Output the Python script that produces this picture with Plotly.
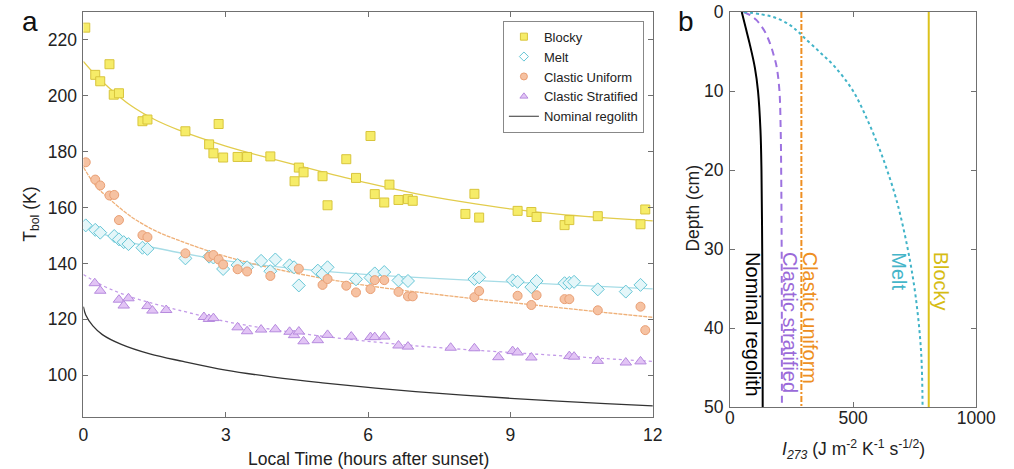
import plotly.graph_objects as go

# ---------------- Panel a data (hours after sunset, K) ----------------
blocky_t = [0.04, 0.25, 0.355, 0.55, 0.64, 0.75, 1.245, 1.35, 2.15, 2.65, 2.74, 2.85, 2.945, 3.25, 3.45, 3.94,
            4.45, 4.54, 4.64, 5.04, 5.145, 5.54, 5.745, 6.05, 6.14, 6.34, 6.45, 6.64, 6.84, 6.94, 8.05, 8.24,
            8.34, 9.15, 9.44, 9.55, 10.14, 10.24, 10.84, 11.74, 11.84]
blocky_T = [224.4, 207.5, 205.2, 211.3, 200.4, 200.9, 190.9, 191.5, 187.3, 182.6, 179.4, 189.9, 177.9, 178.1,
            178.1, 178.3, 169.4, 174.3, 172.6, 171.2, 160.8, 177.3, 170.6, 185.6, 164.8, 161.8, 168.2, 162.7,
            163.0, 162.4, 157.7, 164.9, 156.4, 158.8, 158.4, 156.6, 153.7, 155.5, 156.9, 154.0, 159.3]

melt_t = [0.05, 0.25, 0.355, 0.65, 0.75, 0.85, 0.95, 1.245, 1.35, 2.15, 2.65, 2.74, 2.945, 3.25, 3.45, 3.745,
          3.94, 4.045, 4.345, 4.44, 4.54, 4.94, 5.04, 5.145, 5.745, 6.05, 6.14, 6.34, 6.64, 6.84, 8.24, 8.34,
          9.045, 9.15, 9.44, 9.55, 10.14, 10.24, 10.34, 10.84, 11.43, 11.74]
melt_T = [153.6, 152.0, 151.0, 149.8, 148.6, 147.6, 146.9, 145.6, 145.2, 141.8, 142.4, 142.1, 138.0, 139.4,
          138.6, 140.9, 137.2, 141.4, 139.3, 138.6, 132.1, 137.4, 136.2, 138.6, 134.3, 134.9, 136.4, 136.9,
          133.9, 133.7, 134.4, 135.0, 133.9, 133.4, 131.5, 133.7, 132.9, 133.0, 133.4, 130.7, 129.9, 132.3]

uni_t = [0.05, 0.25, 0.355, 0.55, 0.65, 0.75, 1.245, 1.35, 2.15, 2.65, 2.74, 2.85, 2.945, 3.25, 3.45, 3.94,
         4.54, 5.04, 5.145, 5.54, 5.745, 6.05, 6.14, 6.34, 6.64, 6.84, 6.94, 8.24, 8.34, 9.15, 9.44, 9.55,
         10.14, 10.24, 10.84, 11.74, 11.84]
uni_T = [176.2, 170.0, 167.9, 164.3, 164.5, 155.5, 150.1, 149.4, 143.6, 142.4, 143.0, 141.4, 139.6, 137.9,
         137.1, 135.5, 138.1, 132.3, 134.4, 132.0, 129.6, 130.8, 134.0, 134.0, 129.8, 128.2, 128.2, 127.9,
         130.1, 128.4, 125.1, 128.6, 127.2, 127.2, 123.2, 124.5, 116.1]

strat_t = [0.24, 0.355, 0.75, 0.85, 0.95, 1.35, 1.455, 1.745, 2.54, 2.645, 2.74, 3.25, 3.45, 3.745, 4.045,
           4.345, 4.44, 4.54, 4.64, 4.94, 5.145, 5.645, 6.05, 6.14, 6.34, 6.64, 6.84, 7.74, 8.24, 8.745,
           9.045, 9.15, 9.44, 10.24, 10.34, 10.84, 11.43, 11.74]
strat_T = [132.9, 130.2, 127.0, 124.9, 127.5, 124.7, 123.1, 123.3, 120.8, 120.1, 120.4, 117.1, 115.7, 116.3,
           116.4, 115.5, 114.3, 115.6, 112.1, 112.5, 114.4, 113.8, 113.6, 113.6, 113.8, 110.6, 110.2, 109.8,
           109.6, 106.4, 108.6, 108.1, 106.3, 106.8, 106.6, 105.1, 104.5, 104.9]

# fitted model curves
fit_t = [0, 0.25, 0.5, 1, 1.5, 2, 3, 4, 5, 6, 7, 8, 9, 10, 11, 12]
blocky_fit = [212.3, 207.5, 203.5, 196.5, 191.5, 187.8, 182.0, 177.3, 172.9, 168.7, 165.0, 162.0, 159.5, 157.6, 156.3, 155.2]
melt_fit = [153.5, 151.7, 150.0, 147.5, 145.6, 143.9, 141.0, 138.9, 137.3, 136.0, 135.0, 134.1, 133.3, 132.5, 131.7, 130.9]
uni_fit = [174.5, 168.0, 163.8, 156.8, 151.8, 148.3, 142.5, 138.2, 134.8, 132.0, 129.8, 127.8, 126.0, 124.2, 122.4, 120.7]
strat_fit = [136.0, 133.5, 131.3, 128.0, 125.5, 123.3, 119.2, 116.3, 114.0, 112.1, 110.5, 109.2, 108.1, 107.0, 105.9, 104.9]
nom_t = [0, 0.05, 0.2, 0.4, 0.8, 1.4, 2.1, 3, 4, 5, 6, 7, 8, 9, 10, 11, 12]
nom_T = [124.5, 121.5, 117.6, 114.5, 111.0, 107.6, 104.9, 101.8, 99.3, 97.3, 95.6, 94.1, 92.8, 91.7, 90.7, 89.8, 89.0]

# ---------------- Panel b data (depth cm, I273) ----------------
nomb_depth = [0, 2, 4, 7, 10, 15, 20, 30, 40, 50]
nomb_I = [48, 64, 80, 101, 114, 124, 128, 131, 132.5, 133]
stratb_depth = [0, 0.5, 1, 1.6, 2.5, 4, 5.5, 7, 10, 15, 20, 30, 50]
stratb_I = [56, 88, 107, 123, 142, 163, 178, 190, 201, 206, 208, 210, 211]
unib_depth = [0, 50]
unib_I = [290, 290]
meltb_depth = [0, 0.3, 0.7, 1.5, 2.3, 3.2, 5, 7, 10, 13.5, 17, 20, 24, 30, 36, 43, 50]
meltb_I = [56, 128, 182, 236, 270, 300, 362, 428, 500, 556, 603, 638, 678, 722, 754, 776, 782]
blockyb_depth = [0, 50]
blockyb_I = [807, 807]

FONT = "Liberation Sans, Arial, sans-serif"
AX = "#707070"

REF_W = 1014                # reference picture width (positions below are in its pixels)
W, H = 1031, 469            # figure size (the photo comes out horizontally scaled by ~1014/1031)
T_M, B_M = 12, 52
PH = H - T_M - B_M          # plot area height (405)


def fx(x):                  # reference x pixel -> paper x
    return x / REF_W


def fy(y):                  # reference y pixel -> paper y
    return 1 - (y - T_M) / PH


C_BLK = dict(fill="#f6ec68", edge="#d8c53c")
C_MELT = dict(fill="#e4f6f9", edge="#66c6d6")
C_UNI = dict(fill="#f6c2a2", edge="#e99f74")
C_STR = dict(fill="#e2c4f5", edge="#b68ade")

fig = go.Figure()

# fit lines (panel a)
fig.add_trace(go.Scatter(x=fit_t, y=blocky_fit, mode="lines", line=dict(color="#e2cc4c", width=1.3, shape="spline"),
                         showlegend=False, hoverinfo="skip"))
fig.add_trace(go.Scatter(x=fit_t, y=melt_fit, mode="lines", line=dict(color="#a6dce6", width=1.3, shape="spline"),
                         showlegend=False, hoverinfo="skip"))
fig.add_trace(go.Scatter(x=fit_t, y=uni_fit, mode="lines", line=dict(color="#efb078", width=1.3, shape="spline", dash="4px,1px"),
                         showlegend=False, hoverinfo="skip"))
fig.add_trace(go.Scatter(x=fit_t, y=strat_fit, mode="lines", line=dict(color="#c39ae8", width=1.3, shape="spline", dash="3px,3px"),
                         showlegend=False, hoverinfo="skip"))

# markers
fig.add_trace(go.Scatter(x=blocky_t, y=blocky_T, mode="markers", showlegend=False,
                         marker=dict(symbol="square", size=9, color=C_BLK["fill"], line=dict(color=C_BLK["edge"], width=1))))
fig.add_trace(go.Scatter(x=melt_t, y=melt_T, mode="markers", showlegend=False,
                         marker=dict(symbol="diamond", size=10, color=C_MELT["fill"], line=dict(color=C_MELT["edge"], width=1))))
fig.add_trace(go.Scatter(x=uni_t, y=uni_T, mode="markers", showlegend=False,
                         marker=dict(symbol="circle", size=9, color=C_UNI["fill"], line=dict(color=C_UNI["edge"], width=1))))
fig.add_trace(go.Scatter(x=strat_t, y=strat_T, mode="markers", showlegend=False,
                         marker=dict(symbol="triangle-up", size=10, color=C_STR["fill"], line=dict(color=C_STR["edge"], width=1))))
fig.add_trace(go.Scatter(x=nom_t, y=nom_T, mode="lines", showlegend=False,
                         line=dict(color="#333333", width=1.3, shape="spline")))

# legend entries (smaller glyphs, as in the reference legend)
for name, sym, c in [("Blocky", "square", C_BLK), ("Melt", "diamond-open", C_MELT),
                     ("Clastic Uniform", "circle", C_UNI), ("Clastic Stratified", "triangle-up", C_STR)]:
    fig.add_trace(go.Scatter(x=[None], y=[None], mode="markers", name=name,
                             marker=dict(symbol=sym, size=7, color=c["fill"] if "open" not in sym else c["edge"],
                                         line=dict(color=c["edge"], width=1))))
fig.add_trace(go.Scatter(x=[None], y=[None], mode="lines", name="Nominal regolith",
                         line=dict(color="#333333", width=1)))

# panel b
fig.add_trace(go.Scatter(x=nomb_I, y=nomb_depth, mode="lines", xaxis="x2", yaxis="y2", showlegend=False,
                         line=dict(color="#000000", width=2, shape="spline")))
fig.add_trace(go.Scatter(x=stratb_I, y=stratb_depth, mode="lines", xaxis="x2", yaxis="y2", showlegend=False,
                         line=dict(color="#9d72e0", width=2, shape="spline", dash="7px,5px")))
fig.add_trace(go.Scatter(x=unib_I, y=unib_depth, mode="lines", xaxis="x2", yaxis="y2", showlegend=False,
                         line=dict(color="#ee8f22", width=2, dash="6px,2px,2px,2px")))
fig.add_trace(go.Scatter(x=meltb_I, y=meltb_depth, mode="lines", xaxis="x2", yaxis="y2", showlegend=False,
                         line=dict(color="#42b4c8", width=2, shape="spline", dash="dot")))
fig.add_trace(go.Scatter(x=blockyb_I, y=blockyb_depth, mode="lines", xaxis="x2", yaxis="y2", showlegend=False,
                         line=dict(color="#dcc21c", width=2)))

axis_common = dict(showline=True, linecolor=AX, linewidth=1, mirror="allticks", ticks="inside", ticklen=5,
                   tickcolor=AX, showgrid=False, zeroline=False, ticklabeloverflow="allow",
                   tickfont=dict(family=FONT, size=17.5, color="#222"))

fig.update_layout(
    width=W, height=H, autosize=False, margin=dict(l=0, r=0, t=T_M, b=B_M),
    paper_bgcolor="white", plot_bgcolor="white",
    font=dict(family=FONT, color="#222"),
    xaxis=dict(domain=[fx(79), fx(653)], range=[0, 12], tickvals=[0, 3, 6, 9, 12], ticklabelstandoff=2, **axis_common),
    yaxis=dict(domain=[0, 1], range=[85, 230], tickvals=[100, 120, 140, 160, 180, 200, 220], ticklabelstandoff=2, **axis_common),
    xaxis2=dict(domain=[fx(730.7), fx(979)], range=[0, 1000], tickvals=[0, 500, 1000], anchor="y2",
                ticklabelstandoff=-5, **axis_common),
    yaxis2=dict(domain=[1 - (407.3 - T_M) / PH, 1], range=[50, 0], tickvals=[0, 10, 20, 30, 40, 50], anchor="x2",
                ticklabelstandoff=2, **axis_common),
    legend=dict(x=fx(644), xanchor="right", y=fy(20.7), yanchor="top", bgcolor="white",
                bordercolor="#888", borderwidth=1, font=dict(family=FONT, size=13, color="#222"),
                tracegroupgap=0),
    showlegend=True,
)

ann = []


def A(text, x, y, xref="paper", yref="paper", size=17.5, color="#222", angle=0, xa="center", ya="middle"):
    ann.append(dict(text=text, x=x, y=y, xref=xref, yref=yref, showarrow=False, textangle=angle,
                    xanchor=xa, yanchor=ya, font=dict(family=FONT, size=size, color=color)))


A("Local Time (hours after sunset)", fx(366), fy(459))
A("<i>I</i><sub><i>273</i></sub> (J m<sup>-2</sup> K<sup>-1</sup> s<sup>-1/2</sup>)", fx(855), fy(449))
A("T<sub>bol</sub> (K)", fx(26), fy(214), angle=-90)
A("Depth (cm)", fx(693), fy(208), angle=-90)
A("a", fx(25), fy(21), size=28, color="#111")
A("b", fx(686), fy(21), size=28, color="#111")

A("Nominal regolith", 91, 30.1, "x2", "y2", size=20, color="#000", angle=90, ya="top")
A("Clastic stratified", 242, 30.1, "x2", "y2", size=20, color="#9a6ad9", angle=90, ya="top")
A("Clastic uniform", 326, 30.1, "x2", "y2", size=20, color="#ee8f22", angle=90, ya="top")
A("Melt", 685, 30.1, "x2", "y2", size=20, color="#45b5c9", angle=90, ya="top")
A("Blocky", 856, 30.1, "x2", "y2", size=20, color="#d6bc14", angle=90, ya="top")
fig.update_layout(annotations=ann)

fig.write_html(
    "out.html",
    config={"responsive": False, "displayModeBar": False},
    post_script="document.documentElement.style.overflow='hidden';"
                "document.body.style.overflow='hidden';"
                "document.body.style.margin='0';document.body.style.padding='0';",
)
